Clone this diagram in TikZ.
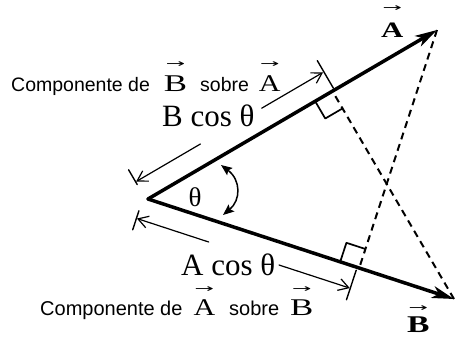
\documentclass[tikz,border=0pt]{standalone}
\usepackage{graphicx}
\usepackage{fontspec}
\setmainfont{Liberation Serif}
\setsansfont{Liberation Sans}
\newfontfamily\arrfont{DejaVu Sans}
\usetikzlibrary{calc,arrows.meta}

\newsavebox{\vlbox}
\newcommand{\vl}[4][1.4]{\sbox{\vlbox}{\rmfamily\fontsize{#2}{26}\selectfont\scalebox{#1}[1]{#4}}%
  \rlap{\makebox[\wd\vlbox]{\raisebox{\dimexpr\ht\vlbox+#3\relax}{\arrfont\mdseries\fontsize{11}{13}\selectfont\scalebox{2.1}[1]{→}}}}%
  \usebox{\vlbox}}

\begin{document}
\begin{tikzpicture}[x=1pt, y=-1pt, line cap=round, line join=round,
  vec/.style={line width=3.5pt, -{Stealth[length=22pt,width=12pt,inset=6pt]}},
  dim/.style={line width=1.2pt, -{Straight Barb[length=10pt,width=12pt]}},
  tick/.style={line width=1.4pt},
  box/.style={line width=1.7pt},
  proj/.style={line width=2pt, dash pattern=on 7pt off 5pt, line cap=butt},
  angarr/.style={line width=1.5pt, {Stealth[length=11pt,width=9pt,inset=2pt]}-{Stealth[length=11pt,width=9pt,inset=2pt]}},
  sanslbl/.style={font=\sffamily\fontsize{19.5}{22}\selectfont, inner sep=0pt, anchor=base west},
  serlbl/.style={font=\fontsize{31}{34}\selectfont, inner sep=0pt, anchor=base west},
  boldlbl/.style={font=\bfseries, inner sep=0pt, anchor=base west}]
  \useasboundingbox (0,0) rectangle (455,338);
  \coordinate (O) at (148,199);
  \coordinate (At) at (437,30);
  \coordinate (Bt) at (454,299);
  \coordinate (FA) at ($(O)!(Bt)!(At)$);
  \coordinate (FB) at ($(O)!(At)!(Bt)$);
  % projections
  \draw[proj] (Bt) -- (FA);
  \draw[proj] (At) -- (FB);
  % right angles
  \coordinate (a1) at ($(FA)!20pt!(O)$);
  \coordinate (a2) at ($(FA)!20pt!(Bt)$);
  \draw[box] (a1) -- ($(a1)+(a2)-(FA)$) -- (a2);
  \coordinate (b1) at ($(FB)!20pt!(O)$);
  \coordinate (b2) at ($(FB)!20pt!(At)$);
  \draw[box] (b1) -- ($(b1)+(b2)-(FB)$) -- (b2);
  % vectors
  \draw[vec] (O) -- (At);
  \draw[vec] (O) -- (Bt);
  % B cos theta
  \draw[tick] (137.2,184.5) -- (128.6,169.8);
  \draw[tick] (333.4,88.2) -- (317.3,60.6);
  \coordinate (u1) at (261.7,108.2);
  \coordinate (u2) at (323.0,72.4);
  \coordinate (u3) at (200.4,144.0);
  \coordinate (u4) at (136.1,181.6);
  \draw[dim] (u1) -- (u2);
  \draw[dim] (u3) -- (u4);
  % A cos theta
  \draw[tick] (138.9,210.8) -- (132.7,229.8);
  \draw[tick] (356.2,270.2) -- (346.5,299.7);
  \coordinate (l1) at (279.0,265.0);
  \coordinate (l2) at (349.8,288.1);
  \coordinate (l3) at (208.7,242.0);
  \coordinate (l4) at (136.9,218.5);
  \draw[dim] (l1) -- (l2);
  \draw[dim] (l3) -- (l4);
  % angle
  \draw[angarr] (221,165) .. controls (241,180) and (241,200) .. (223,215);
  \node[font=\fontsize{27}{30}\selectfont, inner sep=0pt] (theta) at (195,197) {θ};
  % labels
  \node[sanslbl] (cBA) at (11,91.5) {Componente de\hspace{14pt}\vl[1.45]{24}{8pt}{B}\hspace{13pt}sobre\hspace{10pt}\vl[1.25]{24}{8pt}{A}};
  \node[serlbl] (BcosT) at (162,126) {B cos θ};
  \node[serlbl] (AcosT) at (181,275) {A cos θ};
  \node[sanslbl, font=\sffamily\fontsize{20}{22}\selectfont] (cAB) at (40,315) {Componente de\hspace{11pt}\vl[1.25]{24}{7pt}{A}\hspace{14pt}sobre\hspace{11pt}\vl[1.45]{24}{7pt}{B}};
  \node[boldlbl] (labA) at (381,37) {\vl[1.4]{22}{11pt}{A}};
  \node[boldlbl] (labB) at (407,332) {\vl[1.4]{24}{5pt}{B}};
\end{tikzpicture}
\end{document}
